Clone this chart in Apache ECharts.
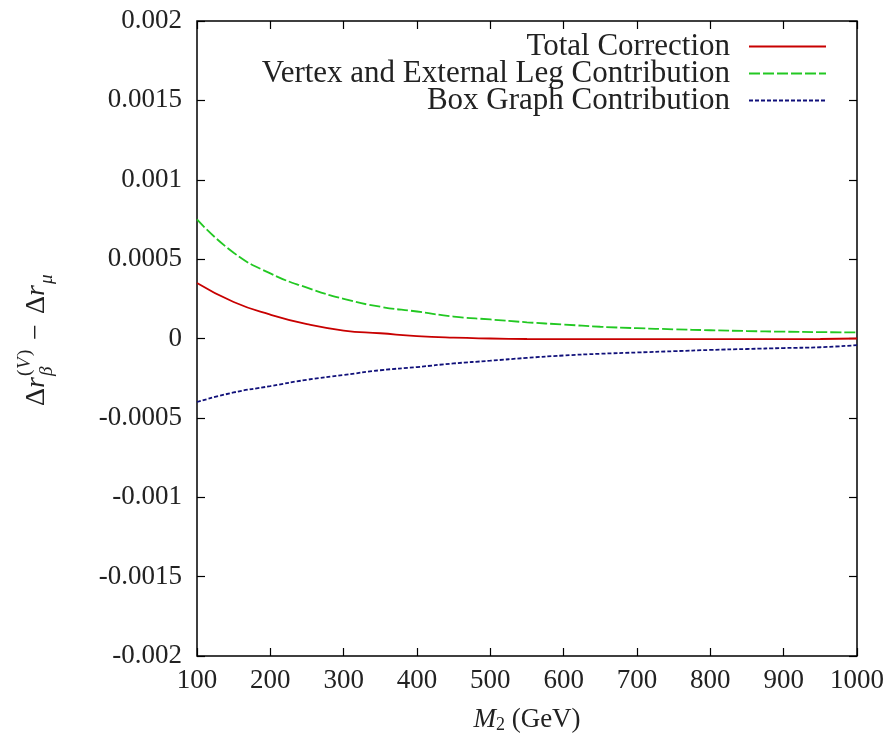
<!DOCTYPE html>
<html>
<head>
<meta charset="utf-8">
<title>Delta r correction vs M2</title>
<script src="https://cdn.jsdelivr.net/npm/echarts@6/dist/echarts.min.js"></script>
<style>
  html, body { margin: 0; padding: 0; background: #fff; }
  #chart { width: 894px; height: 739px; }
</style>
</head>
<body>
<div id="chart"></div>
<script>
// M_2 sample points (GeV)
var massPoints = [100, 150, 200, 250, 300, 350, 400, 450, 500, 550, 600, 650, 700, 750, 800, 850, 900, 950, 1000];
var totalCorr = [0.00035, 0.00023, 0.00015, 0.00009, 0.00005, 0.000033, 0.000015, 0.000005, 0.0, -0.000003, -0.000004, -0.000004, -0.000004, -0.000004, -0.000004, -0.000004, -0.000004, -0.000003, 0.0];
var vertexLeg = [0.00075, 0.00054, 0.00041, 0.00032, 0.00025, 0.0002, 0.00017, 0.000138, 0.00012, 0.000102, 0.000088, 0.000074, 0.000065, 0.000058, 0.000052, 0.000047, 0.000043, 0.00004, 0.000038];
var boxGraph = [-0.0004, -0.00034, -0.0003, -0.00026, -0.00023, -0.0002, -0.00018, -0.000157, -0.00014, -0.000122, -0.000107, -0.000096, -0.000088, -0.00008, -0.000072, -0.000066, -0.00006, -0.000055, -0.000042];
var seriesNames = ['Total Correction', 'Vertex and External Leg Contribution', 'Box Graph Contribution'];

var serif = 'Liberation Serif';

function pairs(ys) {
  return massPoints.map(function (m, i) { return [m, ys[i]]; });
}

var chart = echarts.init(document.getElementById('chart'));

var tickStyle = { show: true, inside: true, length: 8, lineStyle: { color: '#000', width: 1.2 } };
var hiddenLine = { show: false, onZero: false };

var option = {
  backgroundColor: '#fff',
  animation: false,
  grid: { left: 197, right: 37, top: 21, bottom: 83, show: true, borderColor: '#000', borderWidth: 1.5 },
  legend: {
    orient: 'vertical',
    align: 'right',
    right: 62,
    top: 26,
    itemWidth: 77,
    itemHeight: 10,
    itemGap: -4,
    selectedMode: false,
    itemStyle: { opacity: 0 },
    textStyle: { fontFamily: serif, fontSize: 31, color: '#222', padding: [0, 14, 0, 0] },
    data: seriesNames
  },
  xAxis: [{
    type: 'value', min: 100, max: 1000, interval: 100,
    name: '{i|M}{s|2} (GeV)',
    nameLocation: 'middle', nameGap: 50,
    nameTextStyle: {
      fontFamily: serif, fontSize: 27, color: '#222',
      rich: {
        i: { fontFamily: serif, fontSize: 27, fontStyle: 'italic', color: '#222' },
        s: { fontFamily: serif, fontSize: 18, color: '#222', verticalAlign: 'bottom', padding: [10, 0, 0, 0] }
      }
    },
    axisLine: hiddenLine,
    axisTick: tickStyle,
    splitLine: { show: false },
    axisLabel: { fontFamily: serif, fontSize: 27, color: '#222', margin: 11, formatter: function (v) { return String(v); } }
  }, {
    type: 'value', min: 100, max: 1000, interval: 100, position: 'top',
    axisLine: hiddenLine, axisTick: tickStyle, axisLabel: { show: false }, splitLine: { show: false }
  }],
  yAxis: [{
    type: 'value', min: -0.002, max: 0.002, interval: 0.0005,
    axisLine: hiddenLine,
    axisTick: tickStyle,
    splitLine: { show: false },
    axisLabel: {
      fontFamily: serif, fontSize: 27, color: '#222', margin: 15,
      formatter: function (v) { return String(+v.toFixed(4)); }
    }
  }, {
    type: 'value', min: -0.002, max: 0.002, interval: 0.0005, position: 'right',
    axisLine: hiddenLine, axisTick: tickStyle, axisLabel: { show: false }, splitLine: { show: false }
  }],
  series: [{
    name: seriesNames[0], type: 'line', smooth: true, symbol: 'none',
    lineStyle: { color: '#c80000', width: 1.8 }, itemStyle: { color: '#c80000' },
    data: pairs(totalCorr)
  }, {
    name: seriesNames[1], type: 'line', smooth: true, symbol: 'none',
    lineStyle: { color: '#22c822', width: 1.8, type: [11, 3] }, itemStyle: { color: '#22c822' },
    data: pairs(vertexLeg)
  }, {
    name: seriesNames[2], type: 'line', smooth: true, symbol: 'none',
    lineStyle: { color: '#10107a', width: 1.8, type: [4, 2] }, itemStyle: { color: '#10107a' },
    data: pairs(boxGraph)
  }],
  graphic: [{
    type: 'group',
    x: 37, y: 406,
    rotation: Math.PI / 2,
    children: [
      { type: 'text', x: 0, y: 0, style: { text: 'Δ', font: '28px ' + serif, fill: '#222', verticalAlign: 'middle' } },
      { type: 'text', x: 18, y: 0, style: { text: 'r', font: 'italic 28px ' + serif, fill: '#222', verticalAlign: 'middle' } },
      { type: 'text', x: 30, y: 10, style: { text: 'β', font: 'italic 19px ' + serif, fill: '#222', verticalAlign: 'middle' } },
      { type: 'text', x: 30, y: -12, style: { text: '(', font: '19px ' + serif, fill: '#222', verticalAlign: 'middle' } },
      { type: 'text', x: 37, y: -12, style: { text: 'V', font: 'italic 19px ' + serif, fill: '#222', verticalAlign: 'middle' } },
      { type: 'text', x: 50, y: -12, style: { text: ')', font: '19px ' + serif, fill: '#222', verticalAlign: 'middle' } },
      { type: 'text', x: 66, y: 0, style: { text: '−', font: '28px ' + serif, fill: '#222', verticalAlign: 'middle' } },
      { type: 'text', x: 92, y: 0, style: { text: 'Δ', font: '28px ' + serif, fill: '#222', verticalAlign: 'middle' } },
      { type: 'text', x: 110, y: 0, style: { text: 'r', font: 'italic 28px ' + serif, fill: '#222', verticalAlign: 'middle' } },
      { type: 'text', x: 122, y: 10, style: { text: 'μ', font: 'italic 19px ' + serif, fill: '#222', verticalAlign: 'middle' } }
    ]
  }]
};

chart.setOption(option);
</script>
</body>
</html>
